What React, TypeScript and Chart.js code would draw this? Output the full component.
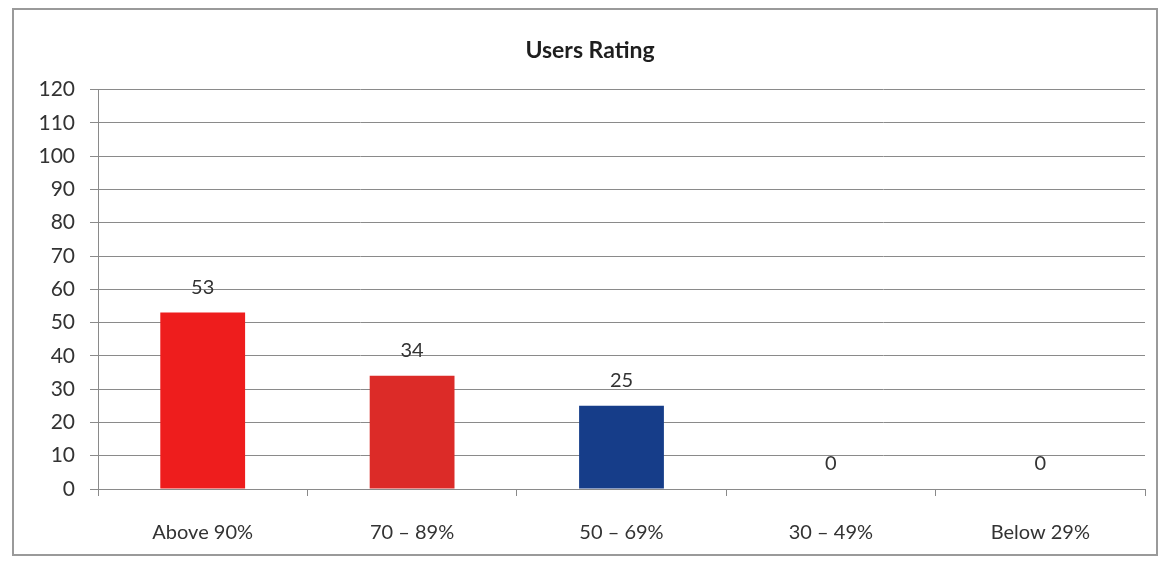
import React, { useEffect, useRef } from "react";
import { Chart, registerables } from "chart.js";

Chart.register(...registerables);

const categories = ["Above 90%", "70 – 89%", "50 – 69%", "30 – 49%", "Below 29%"];
const values = [53, 34, 25, 0, 0];
const barColors = ["#EE1D1D", "#DC2B28", "#163D89", "#163D89", "#163D89"];
const yMin = 0;
const yMax = 120;
const yStep = 10;
const title = "Users Rating";

const FONT = "Lato, 'Open Sans', sans-serif";
const TEXT = "#333333";
const GRID = "#8a8a8a";

const dataLabels = {
  id: "dataLabels",
  afterDatasetsDraw(chart: any) {
    const ctx = chart.ctx;
    const meta = chart.getDatasetMeta(0);
    ctx.save();
    ctx.font = `20px ${FONT}`;
    ctx.fillStyle = TEXT;
    ctx.textAlign = "center";
    ctx.textBaseline = "middle";
    meta.data.forEach((bar: any, i: number) => {
      ctx.fillText(String(values[i]), bar.x, bar.y - 25);
    });
    ctx.restore();
  },
};

export default function App() {
  const ref = useRef<HTMLCanvasElement>(null);
  useEffect(() => {
    if (!ref.current) return;
    const chart = new Chart(ref.current, {
      type: "bar",
      data: {
        labels: categories,
        datasets: [
          {
            data: values,
            backgroundColor: barColors,
            barPercentage: 0.405,
            categoryPercentage: 1,
          },
        ],
      },
      options: {
        animation: false,
        responsive: false,
        maintainAspectRatio: false,
        layout: { padding: { left: 35, right: 24, top: 0, bottom: 0 } },
        plugins: {
          legend: { display: false },
          tooltip: { enabled: false },
          title: {
            display: true,
            text: title,
            color: "#1e1e1e",
            font: { family: FONT, size: 23, weight: "bold" },
            padding: { top: 37, bottom: 25 },
          },
        },
        scales: {
          x: {
            afterFit: (s: any) => {
              s.height = 78;
            },
            grid: {
              drawOnChartArea: false,
              drawTicks: true,
              tickLength: 7,
              color: GRID,
              offset: true,
            },
            border: { display: true, color: GRID },
            ticks: {
              color: TEXT,
              font: { family: FONT, size: 20 },
              padding: 25,
              maxRotation: 0,
            },
          },
          y: {
            min: yMin,
            max: yMax,
            afterFit: (s: any) => {
              s.width = 63;
            },
            grid: { color: GRID, tickLength: 8, drawTicks: true },
            border: { display: true, color: GRID },
            ticks: {
              stepSize: yStep,
              color: TEXT,
              font: { family: FONT, size: 21 },
              padding: 15,
            },
          },
        },
      },
      plugins: [dataLabels],
    });
    return () => chart.destroy();
  }, []);

  return (
    <div
      style={{
        position: "fixed",
        left: 0,
        top: 0,
        width: 1169,
        height: 567,
        background: "#fff",
      }}
    >
      <div
        style={{
          position: "absolute",
          left: 12,
          top: 8,
          width: 1146,
          height: 548,
          border: "2px solid #9a9a9a",
          boxSizing: "border-box",
        }}
      />
      <canvas
        ref={ref}
        width={1169}
        height={567}
        style={{ position: "absolute", left: 0, top: 0 }}
      />
    </div>
  );
}
